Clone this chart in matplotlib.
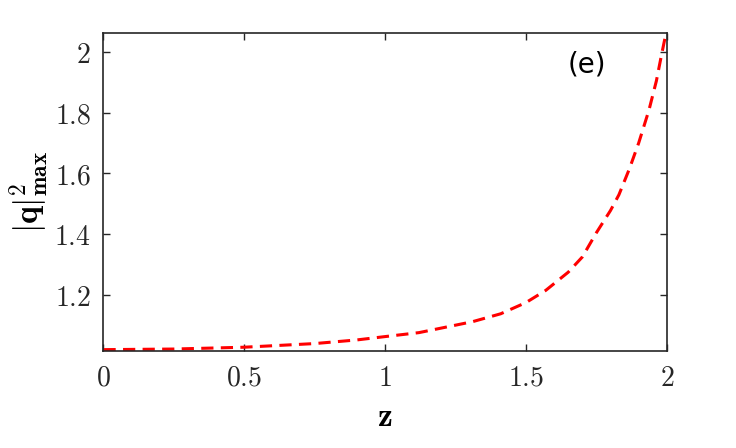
import matplotlib
matplotlib.use("Agg")
import matplotlib.pyplot as plt
import numpy as np

plt.rcParams['mathtext.fontset'] = 'cm'

# values
z = [0.0, 0.25, 0.5, 0.75, 0.9, 1.0, 1.12, 1.21, 1.31, 1.41, 1.5, 1.57, 1.65, 1.7, 1.75,
     1.8, 1.83, 1.867, 1.9, 1.937, 1.963, 1.98, 2.0]
q2max = [1.020, 1.022, 1.028, 1.040, 1.052, 1.063, 1.076, 1.093, 1.112, 1.138, 1.175, 1.215,
         1.275, 1.325, 1.405, 1.478, 1.530, 1.615, 1.700, 1.810, 1.905, 1.985, 2.075]

fig = plt.figure(figsize=(7.36, 4.48), dpi=100)
ax = fig.add_axes([0.1406, 0.2165, 0.7654, 0.7095])

ax.plot(z, q2max, color='#ff0000', linewidth=2.2, linestyle=(0, (4, 2.4)))

ax.set_xlim(0, 2)
ax.set_ylim(1.0155, 2.062)
ax.set_xticks([0, 0.5, 1, 1.5, 2])
ax.set_xticklabels([r'$0$', r'$0.5$', r'$1$', r'$1.5$', r'$2$'])
ax.set_yticks([1.2, 1.4, 1.6, 1.8, 2.0])
ax.set_yticklabels([r'$1.2$', r'$1.4$', r'$1.6$', r'$1.8$', r'$2$'])

ax.tick_params(direction='in', top=True, right=True, length=5, width=1,
               colors='#262626', labelsize=20, pad=9)
for s in ax.spines.values():
    s.set_color('#262626')
    s.set_linewidth(1.2)

ax.set_xlabel(r'$\mathbf{z}$', fontsize=24, labelpad=6)
ax.set_ylabel(r'$|\mathbf{q}|^{\mathbf{2}}_{\mathbf{max}}$', fontsize=24, labelpad=2)

ax.text(0.858, 0.90, '(e)', transform=ax.transAxes, fontsize=20,
        family='DejaVu Sans', ha='center', va='center')

fig.savefig('out.png', dpi=100)
